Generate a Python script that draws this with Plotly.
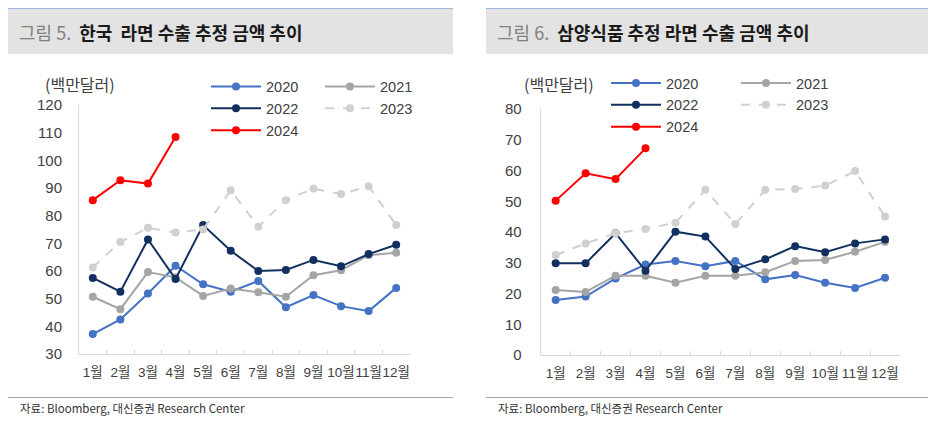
import plotly.graph_objects as go

# page body has an 8px default margin: figure is drawn 8px right/down of the window corner
OFF = 8
W, H = 936 - OFF, 431 - OFF

months = ["1월", "2월", "3월", "4월", "5월", "6월", "7월", "8월", "9월", "10월", "11월", "12월"]
years = ["2020", "2021", "2022", "2023", "2024"]

# 그림 5. 한국 라면 수출 추정 금액 (백만달러)
kr_2020 = [37.2, 42.5, 51.9, 61.9, 55.2, 52.5, 56.4, 46.9, 51.3, 47.3, 45.5, 53.9]
kr_2021 = [50.7, 46.2, 59.6, 57.7, 51.0, 53.7, 52.3, 50.7, 58.5, 60.3, 65.7, 66.6]
kr_2022 = [57.5, 52.5, 71.4, 57.1, 76.6, 67.3, 60.0, 60.4, 64.0, 61.7, 66.1, 69.5]
kr_2023 = [61.3, 70.5, 75.6, 73.9, 75.0, 89.2, 76.0, 85.6, 89.8, 87.8, 90.6, 76.6]
kr_2024 = [85.6, 92.8, 91.6, 108.4]

# 그림 6. 삼양식품 추정 라면 수출 금액 (백만달러)
sy_2020 = [17.9, 19.0, 24.9, 29.4, 30.6, 28.9, 30.6, 24.6, 26.0, 23.5, 21.8, 25.1]
sy_2021 = [21.1, 20.5, 25.8, 25.8, 23.5, 25.8, 25.8, 26.9, 30.6, 30.9, 33.6, 36.8]
sy_2022 = [29.8, 29.8, 39.6, 27.4, 40.1, 38.5, 28.0, 31.1, 35.4, 33.4, 36.3, 37.6]
sy_2023 = [32.5, 36.3, 39.6, 41.0, 43.0, 53.7, 42.6, 53.7, 54.0, 55.1, 59.8, 45.0]
sy_2024 = [50.2, 59.1, 57.2, 67.2]

colors = {"2020": "#4472C4", "2021": "#A5A5A5", "2022": "#12305F",
          "2023": "#D0D0D0", "2024": "#FF0000"}
dashes = {"2020": "solid", "2021": "solid", "2022": "solid", "2023": "dash", "2024": "solid"}

FONT = "Liberation Sans, Noto Sans CJK KR, sans-serif"
KFONT = "Noto Sans CJK KR, sans-serif"
TXT = "#404040"

def px(x):
    return (x - OFF) / W

def py(y):
    return 1 - (y - OFF) / H

fig = go.Figure()

left = {"2020": kr_2020, "2021": kr_2021, "2022": kr_2022, "2023": kr_2023, "2024": kr_2024}
right = {"2020": sy_2020, "2021": sy_2021, "2022": sy_2022, "2023": sy_2023, "2024": sy_2024}
col_of = {"2020": 0, "2022": 0, "2024": 0, "2021": 1, "2023": 1}

for side, data, xa, ya, legs in [("L", left, "x", "y", ("legend", "legend2")),
                                   ("R", right, "x2", "y2", ("legend3", "legend4"))]:
    for yr in years:
        vals = data[yr]
        fig.add_trace(go.Scatter(
            x=months[:len(vals)], y=vals, name=yr, mode="lines+markers",
            line=dict(color=colors[yr], width=2, dash=dashes[yr]),
            marker=dict(color=colors[yr], size=8),
            xaxis=xa, yaxis=ya, legend=legs[col_of[yr]],
            hoverinfo="x+y+name",
        ))

base = dict(showline=True, linecolor="#D9D9D9", linewidth=1, showgrid=False,
            zeroline=False, automargin=False)
xcommon = dict(type="category", categoryorder="array", categoryarray=months,
               range=[-0.5, 11.5], tickson="boundaries", tickangle=0,
               ticks="inside", tickcolor="#D9D9D9", ticklen=4,
               tickfont=dict(size=13.5, color=TXT), ticklabelstandoff=6, **base)

fig.update_layout(
    width=W, height=H, margin=dict(l=0, r=0, t=0, b=0, autoexpand=False),
    paper_bgcolor="white", plot_bgcolor="white",
    font=dict(family=FONT, size=14, color=TXT),
    xaxis=dict(domain=[px(79), px(410)], **xcommon),
    yaxis=dict(domain=[py(354), py(105)], range=[30, 120], dtick=10,
               ticks="outside", ticklen=13, tickcolor="rgba(0,0,0,0)",
               tickfont=dict(size=15, color=TXT), **base),
    xaxis2=dict(domain=[px(540.7), px(900)], anchor="y2", **xcommon),
    yaxis2=dict(domain=[py(355), py(109)], range=[0, 80], dtick=10, anchor="x2",
                ticks="outside", ticklen=15, tickcolor="rgba(0,0,0,0)",
                tickfont=dict(size=15, color=TXT), **base),
    showlegend=True,
)

leg_common = dict(orientation="v", xanchor="left", yanchor="top", bgcolor="rgba(0,0,0,0)",
                  font=dict(family=FONT, size=14.5, color=TXT), itemwidth=50,
                  tracegroupgap=0, traceorder="normal", borderwidth=0)
fig.update_layout(
    legend=dict(x=px(206), y=py(70.5), **leg_common),
    legend2=dict(x=px(320), y=py(70.5), **leg_common),
    legend3=dict(x=px(606), y=py(67), **leg_common),
    legend4=dict(x=px(736), y=py(67), **leg_common),
)

shapes = []
annotations = []
for (x0, x1, fig_no, title) in [(8, 453, "그림 5.", "한국  라면 수출 추정 금액 추이"),
                                 (486, 930, "그림 6.", "삼양식품 추정 라면 수출 금액 추이")]:
    shapes.append(dict(type="rect", xref="paper", yref="paper", x0=px(x0), x1=px(x1),
                       y0=py(54), y1=py(8), fillcolor="#E3E3E3", line=dict(width=0), layer="below"))
    shapes.append(dict(type="line", xref="paper", yref="paper", x0=px(x0), x1=px(x1),
                       y0=py(8), y1=py(8), line=dict(color="#9DB8DC", width=2)))
    shapes.append(dict(type="line", xref="paper", yref="paper", x0=px(x0), x1=px(x1),
                       y0=py(397.5), y1=py(397.5), line=dict(color="#A6A6A6", width=1)))
    annotations.append(dict(xref="paper", yref="paper", x=px(x0 + 9), y=py(32),
                            xanchor="left", yanchor="middle", showarrow=False,
                            text=f"<span style='color:#808080'>{fig_no}</span>  <b>{title}</b>",
                            font=dict(family=KFONT, size=18, color="#1A1A1A")))
    annotations.append(dict(xref="paper", yref="paper", x=px(x0 + 10), y=py(408),
                            xanchor="left", yanchor="middle", showarrow=False,
                            text="자료: Bloomberg, 대신증권 Research Center",
                            font=dict(family=KFONT, size=11.5, color="#333333")))

for xu in (43, 522):
    annotations.append(dict(xref="paper", yref="paper", x=px(xu), y=py(84),
                            xanchor="left", yanchor="middle", showarrow=False,
                            text="(백만달러)", font=dict(family=KFONT, size=16, color=TXT)))

fig.update_layout(shapes=shapes, annotations=annotations)

fig.write_html("out.html")
